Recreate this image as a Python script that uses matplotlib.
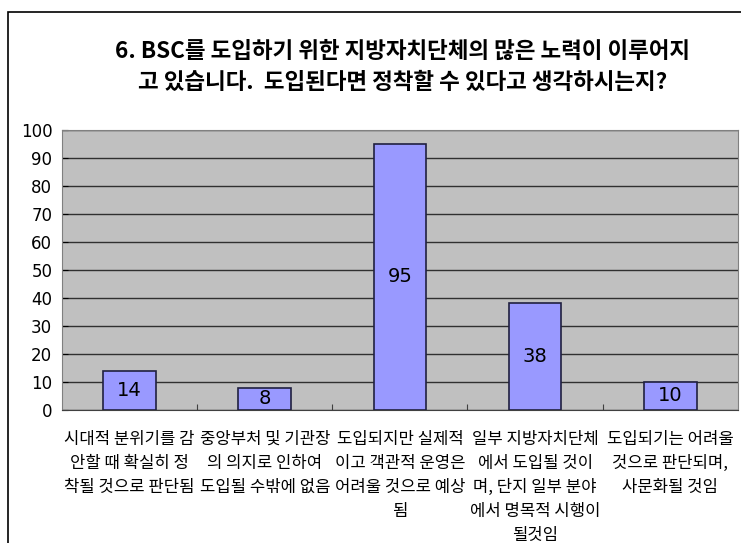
import matplotlib.pyplot as plt
from matplotlib.patches import Rectangle

plt.rcParams['font.family'] = ['Noto Sans CJK KR', 'DejaVu Sans']

title = ('6. BSC를 도입하기 위한 지방자치단체의 많은 노력이 이루어지\n'
         '고 있습니다.  도입된다면 정착할 수 있다고 생각하시는지?')
categories = [
    '시대적 분위기를 감\n안할 때 확실히 정\n착될 것으로 판단됨',
    '중앙부처 및 기관장\n의 의지로 인하여\n도입될 수밖에 없음',
    '도입되지만 실제적\n이고 객관적 운영은\n어려울 것으로 예상\n됨',
    '일부 지방자치단체\n에서 도입될 것이\n며, 단지 일부 분야\n에서 명목적 시행이\n될것임',
    '도입되기는 어려울\n것으로 판단되며,\n사문화될 것임',
]
values = [14, 8, 95, 38, 10]
yticks = list(range(0, 101, 10))

fig = plt.figure(figsize=(7.41, 5.43), dpi=100)
ax = fig.add_axes([0.0837, 0.245, 0.912, 0.516])

# outer chart frame
fig.patches.append(Rectangle((8 / 741, -0.1), 1.2, 1 - 12 / 543 + 0.1,
                             transform=fig.transFigure, fill=False,
                             edgecolor='black', linewidth=1.2))

x = range(len(values))
bars = ax.bar(x, values, width=0.39, color='#9999FF', edgecolor='#202040',
              linewidth=1.2, zorder=3)
for b, v in zip(bars, values):
    ax.text(b.get_x() + b.get_width() / 2, v / 2, str(v), ha='center',
            va='center', fontsize=14, family='DejaVu Sans', zorder=4)

ax.set_facecolor('#C0C0C0')
ax.set_xlim(-0.5, len(values) - 0.5)
ax.set_ylim(0, 100)
ax.set_yticks(yticks)
ax.tick_params(axis='y', direction='in', length=4, labelsize=12, pad=7)
ax.yaxis.grid(True, color='#303030', linewidth=1, zorder=1)
ax.set_xticks([i + 0.5 for i in range(len(values) - 1)])
ax.set_xticklabels([])
ax.tick_params(axis='x', direction='in', length=4, color='#404040')
for i, lab in enumerate(categories):
    ax.text(i, -7.5, lab, ha='center', va='top', fontsize=12,
            linespacing=1.53)
for s in ['left', 'top', 'right']:
    ax.spines[s].set_color('#808080')
ax.spines['bottom'].set_color('#404040')
for t in ax.get_yticklabels():
    t.set_family('DejaVu Sans')

fig.text(0.543, 0.877, title, ha='center', va='center', fontsize=16.2,
         fontweight='bold', linespacing=1.45)

fig.savefig('out.png', dpi=100)
